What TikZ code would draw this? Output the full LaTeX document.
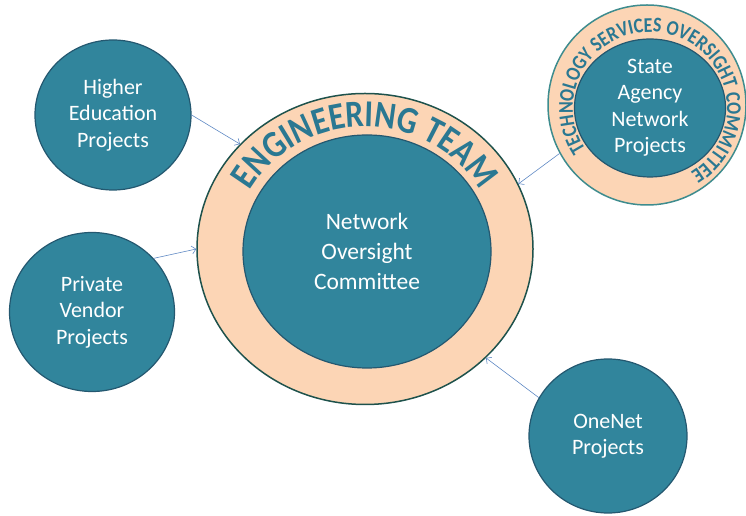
\documentclass[tikz,border=0pt]{standalone}
\usepackage{fontspec}
\setmainfont{Carlito}
\newfontfamily\ringfont[FakeStretch=0.85]{Carlito}
\usetikzlibrary{shapes.geometric,decorations.text,arrows.meta}
\definecolor{projteal}{RGB}{49,133,156}
\definecolor{projedge}{RGB}{36,88,112}
\definecolor{peach}{RGB}{252,213,181}
\definecolor{ringedge}{RGB}{30,82,76}
\definecolor{tsocedge}{RGB}{62,140,142}
\definecolor{ringtext}{RGB}{42,120,146}
\definecolor{arrowblue}{RGB}{96,138,196}

\begin{document}
\begin{tikzpicture}[x=1pt,y=1pt,
    proj/.style={ellipse, draw=projedge, line width=1.2pt, fill=projteal, text=white,
        inner sep=0pt, align=center, font=\fontsize{22}{26.5}\selectfont},
    ring/.style={ellipse, line width=1.5pt, fill=peach, inner sep=0pt},
    feed/.style={-{Straight Barb[length=4pt,width=8pt]}, draw=arrowblue, line width=0.6pt}]
    \useasboundingbox (0,0) rectangle (746,516);
    % engineering team
    \node[ring, draw=ringedge, minimum width=336, minimum height=311] (eng) at (365,267) {};
    \node[proj, minimum width=248, minimum height=233, font=\fontsize{23.5}{30}\selectfont]
        (noc) at (367,264.5) {Network\\Oversight\\Committee};
    \path[decorate, decoration={text along path, text align=center,
        text={|\ringfont\fontsize{38}{38}\bfseries\color{ringtext}|ENGINEERING TEAM}}]
        ([shift={(168:131 and 122)}]eng.center)
        arc[start angle=168, end angle=12, x radius=131, y radius=122];
    % technology services oversight committee
    \node[ring, draw=tsocedge, minimum width=198, minimum height=200] (tsoc) at (647,411) {};
    \node[proj, minimum width=151, minimum height=130] (sa) at (650,408)
        {State\\Agency\\Network\\Projects};
    \path[decorate, decoration={text along path, text align=center,
        text={|\ringfont\fontsize{21}{21}\bfseries\color{ringtext}|TECHNOLOGY SERVICES OVERSIGHT COMMITTEE}}]
        ([shift={(211:77 and 76)}]650,408)
        arc[start angle=211, end angle=-56, x radius=77, y radius=76];
    % projects
    \node[proj, minimum width=156, minimum height=150] (he) at (113,401) {Higher\\Education\\Projects};
    \node[proj, minimum width=165, minimum height=159] (pv) at (92,204) {Private\\Vendor\\Projects};
    \node[proj, minimum width=158, minimum height=154] (on) at (608,80) {OneNet\\Projects};
    \draw[feed] (he.0) -- (eng.140);
    \draw[feed] (pv.41) -- (eng.180);
    \draw[feed] (on.151) -- (eng.-42);
    \draw[feed] (tsoc.209) -- (eng.23);
\end{tikzpicture}
\end{document}
